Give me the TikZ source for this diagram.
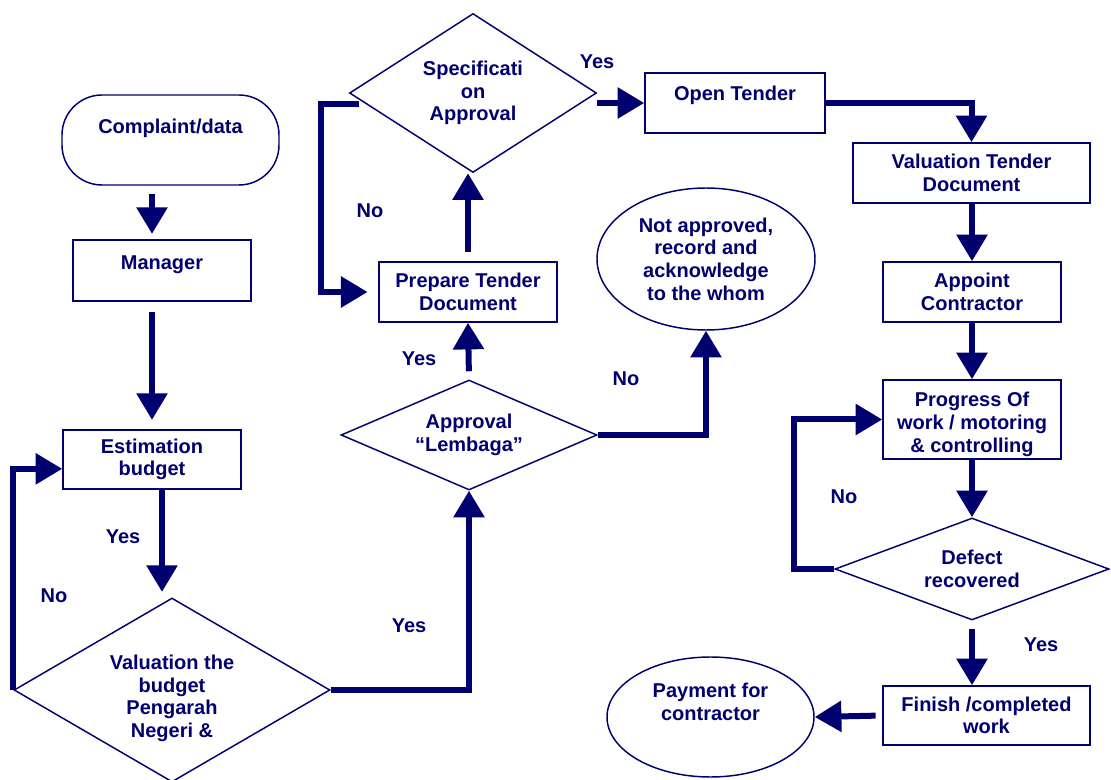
\documentclass[tikz,border=0pt]{standalone}
\usepackage{fontspec}
\setmainfont{Liberation Sans}
\usepackage{xcolor}
\usepackage{tikz}
\usetikzlibrary{positioning,shapes.geometric,arrows.meta}
\definecolor{navyink}{RGB}{0,0,110}

\begin{document}
\begin{tikzpicture}[x=0.75pt,y=0.75pt,yscale=-1,xscale=1,
	every node/.style={font=\bfseries\fontsize{15}{17}\selectfont,text=navyink,align=center},
	box/.style={draw=navyink,line width=1.1pt,rectangle,inner sep=0pt},
	terminal/.style={box,rounded corners=30pt},
	decision/.style={draw=navyink,line width=1.1pt,diamond,inner sep=0pt},
	oval/.style={draw=navyink,line width=1.1pt,ellipse,inner sep=0pt},
	flow/.style={draw=navyink,line width=4.5pt,-{Triangle[width=22.5pt,length=20pt]}},
	lbl/.style={inner sep=0.75pt}]
\useasboundingbox (0,0) rectangle (1111,780);

%Shape: left column
\draw (170.5,140) node (complaint) [terminal,minimum width=162.75pt,minimum height=67.5pt,text height=11pt,text depth=21pt] {Complaint/data};
\draw (162,270.5) node (manager) [box,minimum width=133.5pt,minimum height=45.75pt,text height=11pt,text depth=13pt] {Manager};
\draw (152,459.5) node (estim) [box,minimum width=133.5pt,minimum height=44.25pt] {Estimation\\budget};
\draw (172,690) node (valbud) [decision,minimum width=237pt,minimum height=138pt,aspect=1.72,text height=71pt,text depth=0pt] {Valuation the\\budget\\Pengarah\\Negeri \&};

%Shape: middle column
\draw (473,93) node (spec) [decision,minimum width=185.25pt,minimum height=119.25pt,aspect=1.55] {Specificati\\on\\Approval};
\draw (468,292) node (prepare) [box,minimum width=133.5pt,minimum height=45pt] {Prepare Tender\\Document};
\draw (469,435) node (lembaga) [decision,minimum width=192pt,minimum height=82.5pt,aspect=2.33] {Approval\\“Lembaga”};
\draw (706,259) node (notappr) [oval,minimum width=163.5pt,minimum height=106.5pt] {Not approved,\\record and\\acknowledge\\to the whom};

%Shape: right column
\draw (735,103) node (opentender) [box,minimum width=135pt,minimum height=45pt,text height=11pt,text depth=15pt] {Open Tender};
\draw (971.5,173) node (valtender) [box,minimum width=177.75pt,minimum height=45pt] {Valuation Tender\\Document};
\draw (972,292) node (appoint) [box,minimum width=133.5pt,minimum height=45pt] {Appoint\\Contractor};
\draw (972,419.5) node (progress) [box,minimum width=133.5pt,minimum height=59.25pt,text height=52pt,text depth=3.2pt] {Progress Of\\work / motoring\\\& controlling};
\draw (972,569) node (defect) [decision,minimum width=205.5pt,minimum height=76.5pt,aspect=2.7] {Defect\\recovered};
\draw (986.5,715.5) node (finish) [box,minimum width=155.25pt,minimum height=44.25pt] {Finish /completed\\work};
\draw (710.5,717) node (payment) [oval,minimum width=155.25pt,minimum height=90pt,text height=28pt,text depth=23pt] {Payment for\\contractor};

% Text Node
\draw (123,537) node (yesestim) [lbl] {Yes};
\draw (54,596) node (nobudget) [lbl] {No};
\draw (409,626) node (yesbudget) [lbl] {Yes};
\draw (419,359) node (yeslembaga) [lbl] {Yes};
\draw (370,211) node (nospec) [lbl] {No};
\draw (597,62) node (yesspec) [lbl] {Yes};
\draw (626,379) node (nolembaga) [lbl] {No};
\draw (844,497) node (nodefect) [lbl] {No};
\draw (1041,645) node (yesdefect) [lbl] {Yes};

%Straight Lines
\draw [flow,shorten <=6pt,shorten >=4pt] (complaint.south -| estim) -- (manager.north -| estim);
\draw [flow,shorten <=8pt,shorten >=7pt] (manager.south -| estim) -- (estim.north);
\draw [flow,shorten >=4pt] (estim.south -| manager) -- (valbud.north -| manager);
\draw [flow] (valbud.west) |- ([yshift=7pt]estim.west);
\draw [flow] (valbud.east) -| (lembaga.south);
\draw [flow,shorten <=6pt] (lembaga.north) -- (prepare.south);
\draw [flow,shorten <=7pt] (prepare.north) -- (spec.south -| prepare);
\draw [flow,shorten >=8pt] ([shift={(10,11)}]spec.west) -- ++(-38,0) |- (prepare.west);
\draw [flow] (spec.east |- opentender) -- (opentender.west);
\draw [flow] (lembaga.east) -| (notappr.south);
\draw [flow] (opentender.east) -| (valtender.north);
\draw [flow] (valtender.south -| appoint) -- (appoint.north);
\draw [flow] (appoint.south) -- (progress.north);
\draw [flow] (progress.south) -- (defect.north);
\draw [flow] (defect.west) -- ++(-40,0) |- (progress.west);
\draw [flow,shorten <=6pt] (defect.south) -- (finish.north -| defect);
\draw [flow,shorten <=5pt] (finish.west) -- (payment.east);

\end{tikzpicture}
\end{document}
